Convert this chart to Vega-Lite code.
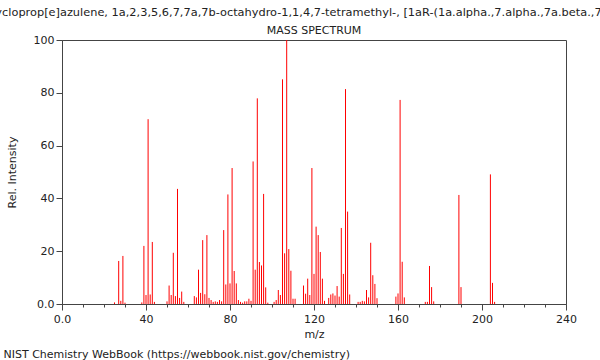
{
  "$schema": "https://vega.github.io/schema/vega-lite/v6.json",
  "width": 504,
  "height": 264,
  "autosize": {"type": "none"},
  "padding": {"left": 62, "top": 40, "right": 34, "bottom": 56},
  "background": "white",
  "config": {
    "font": "DejaVu Sans",
    "view": {"stroke": "#444444", "strokeWidth": 1},
    "axis": {"labelFont": "DejaVu Sans", "titleFont": "DejaVu Sans", "labelFontSize": 11, "titleFontSize": 11, "titleFontWeight": "normal", "labelColor": "#222222", "titleColor": "#222222", "domainColor": "#444444", "tickColor": "#444444", "grid": false}
  },
  "title": {
    "text": "1H-Cycloprop[e]azulene, 1a,2,3,5,6,7,7a,7b-octahydro-1,1,4,7-tetramethyl-, [1aR-(1a.alpha.,7.alpha.,7a.beta.,7b.alpha.)]-",
    "subtitle": "MASS SPECTRUM",
    "anchor": "middle",
    "font": "DejaVu Sans",
    "fontSize": 11.35,
    "fontWeight": "normal",
    "color": "#222222",
    "subtitleFont": "DejaVu Sans",
    "subtitleFontSize": 11,
    "subtitleColor": "#222222",
    "subtitlePadding": 7,
    "offset": -2
  },
  "data": {
    "values": [
      {"mz": 25, "intensity": 0.6}, {"mz": 27, "intensity": 16.3}, {"mz": 28, "intensity": 1.2}, {"mz": 29, "intensity": 18.2}, {"mz": 30, "intensity": 0.5},
      {"mz": 38, "intensity": 0.6}, {"mz": 39, "intensity": 22.0}, {"mz": 40, "intensity": 3.4}, {"mz": 41, "intensity": 70.0}, {"mz": 42, "intensity": 3.6}, {"mz": 43, "intensity": 23.5}, {"mz": 44, "intensity": 0.8},
      {"mz": 50, "intensity": 1.0}, {"mz": 51, "intensity": 7.0}, {"mz": 52, "intensity": 3.4}, {"mz": 53, "intensity": 19.4}, {"mz": 54, "intensity": 3.0}, {"mz": 55, "intensity": 43.6}, {"mz": 56, "intensity": 2.3}, {"mz": 57, "intensity": 4.7}, {"mz": 58, "intensity": 0.8},
      {"mz": 63, "intensity": 3.0}, {"mz": 64, "intensity": 2.5}, {"mz": 65, "intensity": 13.0}, {"mz": 66, "intensity": 4.2}, {"mz": 67, "intensity": 24.2}, {"mz": 68, "intensity": 3.7}, {"mz": 69, "intensity": 26.1}, {"mz": 70, "intensity": 2.3}, {"mz": 71, "intensity": 1.5}, {"mz": 72, "intensity": 0.8}, {"mz": 73, "intensity": 1.0}, {"mz": 74, "intensity": 0.8}, {"mz": 75, "intensity": 1.5}, {"mz": 76, "intensity": 1.0},
      {"mz": 77, "intensity": 28.0}, {"mz": 78, "intensity": 7.4}, {"mz": 79, "intensity": 41.5}, {"mz": 80, "intensity": 7.8}, {"mz": 81, "intensity": 51.5}, {"mz": 82, "intensity": 12.5}, {"mz": 83, "intensity": 7.8}, {"mz": 84, "intensity": 1.5}, {"mz": 85, "intensity": 0.8}, {"mz": 86, "intensity": 0.5}, {"mz": 87, "intensity": 1.0}, {"mz": 88, "intensity": 1.0}, {"mz": 89, "intensity": 2.0}, {"mz": 90, "intensity": 1.2},
      {"mz": 91, "intensity": 54.0}, {"mz": 92, "intensity": 13.0}, {"mz": 93, "intensity": 77.9}, {"mz": 94, "intensity": 15.9}, {"mz": 95, "intensity": 14.6}, {"mz": 96, "intensity": 41.7}, {"mz": 97, "intensity": 6.3}, {"mz": 98, "intensity": 0.5},
      {"mz": 101, "intensity": 0.8}, {"mz": 102, "intensity": 1.5}, {"mz": 103, "intensity": 5.3}, {"mz": 104, "intensity": 3.4}, {"mz": 105, "intensity": 85.1}, {"mz": 106, "intensity": 19.2}, {"mz": 107, "intensity": 100.0}, {"mz": 108, "intensity": 20.8}, {"mz": 109, "intensity": 12.6}, {"mz": 110, "intensity": 2.0}, {"mz": 111, "intensity": 2.0},
      {"mz": 115, "intensity": 7.0}, {"mz": 116, "intensity": 3.9}, {"mz": 117, "intensity": 9.6}, {"mz": 118, "intensity": 3.4}, {"mz": 119, "intensity": 51.5}, {"mz": 120, "intensity": 11.4}, {"mz": 121, "intensity": 29.3}, {"mz": 122, "intensity": 26.1}, {"mz": 123, "intensity": 19.7}, {"mz": 124, "intensity": 9.6}, {"mz": 125, "intensity": 1.2},
      {"mz": 127, "intensity": 2.3}, {"mz": 128, "intensity": 3.6}, {"mz": 129, "intensity": 4.0}, {"mz": 130, "intensity": 3.2}, {"mz": 131, "intensity": 6.8}, {"mz": 132, "intensity": 2.8}, {"mz": 133, "intensity": 28.8}, {"mz": 134, "intensity": 11.4}, {"mz": 135, "intensity": 81.4}, {"mz": 136, "intensity": 35.0}, {"mz": 137, "intensity": 3.6},
      {"mz": 141, "intensity": 0.8}, {"mz": 142, "intensity": 0.8}, {"mz": 143, "intensity": 1.2}, {"mz": 144, "intensity": 1.0}, {"mz": 145, "intensity": 5.3}, {"mz": 146, "intensity": 2.5}, {"mz": 147, "intensity": 23.2}, {"mz": 148, "intensity": 10.9}, {"mz": 149, "intensity": 7.6}, {"mz": 150, "intensity": 2.2},
      {"mz": 159, "intensity": 2.8}, {"mz": 160, "intensity": 4.0}, {"mz": 161, "intensity": 77.3}, {"mz": 162, "intensity": 16.0}, {"mz": 163, "intensity": 2.5},
      {"mz": 173, "intensity": 0.8}, {"mz": 174, "intensity": 0.8}, {"mz": 175, "intensity": 14.4}, {"mz": 176, "intensity": 6.4}, {"mz": 177, "intensity": 1.0},
      {"mz": 189, "intensity": 41.3}, {"mz": 190, "intensity": 6.4},
      {"mz": 204, "intensity": 49.1}, {"mz": 205, "intensity": 8.0}, {"mz": 206, "intensity": 0.8}
    ]
  },
  "layer": [
    {
      "mark": {"type": "rule", "color": "#ff0000", "strokeWidth": 1},
      "encoding": {
        "x": {
          "field": "mz", "type": "quantitative",
          "scale": {"domain": [0, 240], "nice": false, "zero": false},
          "axis": {
            "title": "m/z",
            "values": [0,10,20,30,40,50,60,70,80,90,100,110,120,130,140,150,160,170,180,190,200,210,220,230,240],
            "labelExpr": "datum.value % 40 === 0 ? (datum.value === 0 ? '0.0' : datum.label) : ''",
            "tickSize": {"condition": {"test": "datum.value % 40 === 0", "value": 6}, "value": 3},
            "labelPadding": 3,
            "titlePadding": 4,
            "labelFlush": false,
            "labelOverlap": false
          }
        },
        "y": {
          "field": "intensity", "type": "quantitative",
          "scale": {"domain": [0, 100], "nice": false},
          "axis": {
            "title": "Rel. Intensity",
            "values": [0,5,10,15,20,25,30,35,40,45,50,55,60,65,70,75,80,85,90,95,100],
            "labelExpr": "datum.value % 20 === 0 ? (datum.value === 0 ? '0.0' : datum.label) : ''",
            "tickSize": {"condition": {"test": "datum.value % 20 === 0", "value": 6}, "value": 3},
            "labelPadding": 2,
            "titlePadding": 16,
            "labelOverlap": false
          }
        },
        "y2": {"datum": 0}
      }
    },
    {
      "transform": [{"filter": "false"}],
      "mark": {"type": "rule", "opacity": 0},
      "encoding": {
        "x": {
          "field": "mz", "type": "quantitative",
          "scale": {"domain": [0, 240], "nice": false, "zero": false},
          "axis": {
            "orient": "bottom",
            "title": "NIST Chemistry WebBook (https://webbook.nist.gov/chemistry)",
            "labels": false, "ticks": false, "domain": false,
            "titleAnchor": "start", "titleAlign": "left", "titleBaseline": "alphabetic",
            "titleX": -59, "titleY": 53
          }
        },
        "y": {"field": "intensity", "type": "quantitative"},
        "y2": {"datum": 0}
      }
    }
  ],
  "resolve": {"axis": {"x": "independent"}}
}
